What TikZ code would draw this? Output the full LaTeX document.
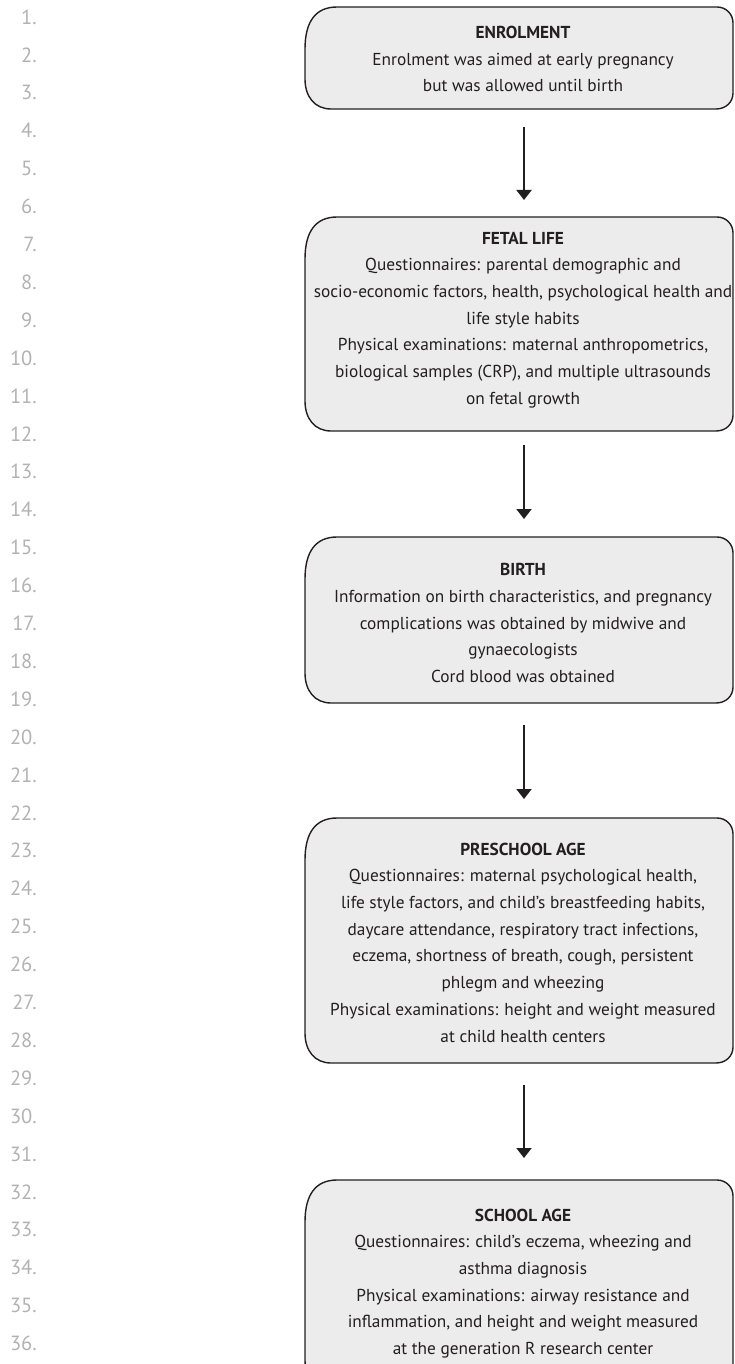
\documentclass[tikz,border=0pt]{standalone}
\usepackage{fontspec}
\setmainfont{PT Sans}
\usetikzlibrary{arrows.meta,calc}
\definecolor{boxfill}{RGB}{236,236,236}
\definecolor{ink}{RGB}{35,31,32}
\definecolor{numgray}{RGB}{178,178,178}
\pgfdeclarelayer{bg}
\pgfsetlayers{bg,main}
\tikzset{
  boxshape/.style={draw=none, inner sep=0pt, outer sep=0pt, minimum width=428pt},
  boxline/.style={draw=ink, fill=boxfill, line width=1.4pt},
  stagetext/.style={align=center, inner sep=0pt, text=ink, font=\fontsize{17.3}{26.7}\selectfont},
  numtext/.style={anchor=east, inner sep=0pt, text=numgray, font=\fontsize{20.5}{24}\selectfont},
  arr/.style={draw=ink, line width=2pt, -{Triangle[width=15pt,length=10pt]}}
}
\newcommand\stagebox[2][]{%
\path[boxline,#1]
 ($(#2.north west)+(32,0)$) -- ($(#2.north east)+(-16,0)$)
 .. controls ($(#2.north east)+(-7,0)$) and ($(#2.north east)+(0,7)$) .. ($(#2.north east)+(0,16)$)
 -- ($(#2.south east)+(0,-16)$)
 .. controls ($(#2.south east)+(0,-7)$) and ($(#2.south east)+(-7,0)$) .. ($(#2.south east)+(-17,0)$)
 -- ($(#2.south west)+(26,0)$)
 .. controls ($(#2.south west)+(10,0)$) and ($(#2.south west)+(0,-12)$) .. ($(#2.south west)+(0,-30)$)
 -- ($(#2.north west)+(0,42)$)
 .. controls ($(#2.north west)+(0,14)$) and ($(#2.north west)+(11,0)$) .. cycle;}
\begin{document}
\begin{tikzpicture}[x=1pt,y=-1pt]
\useasboundingbox (0,0) rectangle (735,1364);
% line numbers
\foreach \n in {1,...,36}{
  \node[numtext] (ln\n) at (37,{17+(\n-1)*37.9}) {\n.};
}
% boxes
\node[boxshape, minimum height=102pt] (b1) at (519,58) {};
\node[boxshape, minimum height=214pt] (b2) at (519,324) {};
\node[boxshape, minimum height=166pt] (b3) at (519,620) {};
\node[boxshape, minimum height=245pt] (b4) at (519,940.5) {};
\node[boxshape, minimum height=210pt, overlay] (b5) at (519,1285) {};
\begin{pgfonlayer}{bg}
\stagebox{b1}\stagebox{b2}\stagebox{b3}\stagebox{b4}\stagebox[overlay]{b5}
\end{pgfonlayer}
% texts
\node[stagetext] (t1) at ($(b1.center)+(4,1)$) {\textbf{ENROLMENT}\\Enrolment was aimed at early pregnancy\\but was allowed until birth};
\node[stagetext] (t2) at ($(b2.center)+(4,-4)$) {\textbf{FETAL LIFE}\\Questionnaires: parental demographic and\\socio-economic factors, health, psychological health and\\life style habits\\Physical examinations: maternal anthropometrics,\\biological samples (CRP), and multiple ultrasounds\\on fetal growth};
\node[stagetext] (t3) at ($(b3.center)+(4,3)$) {\textbf{BIRTH}\\Information on birth characteristics, and pregnancy\\complications was obtained by midwive and\\gynaecologists\\Cord blood was obtained};
\node[stagetext] (t4) at ($(b4.center)+(4,2)$) {\textbf{PRESCHOOL AGE}\\Questionnaires: maternal psychological health,\\life style factors, and child’s breastfeeding habits,\\daycare attendance, respiratory tract infections,\\eczema, shortness of breath, cough, persistent\\phlegm and wheezing\\Physical examinations: height and weight measured\\at child health centers};
\node[stagetext] (t5) at ($(b5.center)+(4,-1.5)$) {\textbf{SCHOOL AGE}\\Questionnaires: child’s eczema, wheezing and\\asthma diagnosis\\Physical examinations: airway resistance and\\inflammation, and height and weight measured\\at the generation R research center};
% arrows
\draw[arr, shorten <=18pt, shorten >=17pt] ([xshift=5pt]b1.south) -- ([xshift=5pt]b2.north);
\draw[arr, shorten <=14pt, shorten >=18pt] ([xshift=5pt]b2.south) -- ([xshift=5pt]b3.north);
\draw[arr, shorten <=22pt, shorten >=19pt] ([xshift=5pt]b3.south) -- ([xshift=5pt]b4.north);
\draw[arr, shorten <=22pt, shorten >=22pt] ([xshift=5pt]b4.south) -- ([xshift=5pt]b5.north);
\end{tikzpicture}
\end{document}
